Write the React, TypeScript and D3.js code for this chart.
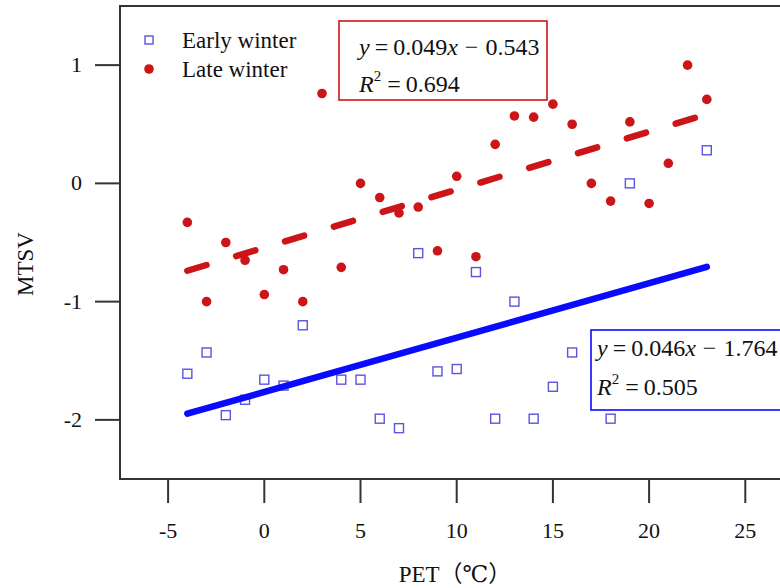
import React from "react";
import * as d3 from "d3";

const earlyX = [-4, -3, -2, -1, 0, 1, 2, 4, 5, 6, 7, 8, 9, 10, 11, 12, 13, 14, 15, 16, 18, 19, 23];
const earlyY = [-1.61, -1.43, -1.96, -1.83, -1.66, -1.71, -1.2, -1.66, -1.66, -1.99, -2.07, -0.59, -1.59, -1.57, -0.75, -1.99, -1.0, -1.99, -1.72, -1.43, -1.99, 0.0, 0.28];

const lateX = [-4, -3, -2, -1, 0, 1, 2, 3, 4, 5, 6, 7, 8, 9, 10, 11, 12, 13, 14, 15, 16, 17, 18, 19, 20, 21, 22, 23];
const lateY = [-0.33, -1.0, -0.5, -0.65, -0.94, -0.73, -1.0, 0.76, -0.71, 0.0, -0.12, -0.25, -0.2, -0.57, 0.06, -0.62, 0.33, 0.57, 0.56, 0.67, 0.5, 0.0, -0.15, 0.52, -0.17, 0.17, 1.0, 0.71];

const seriesNames = ["Early winter", "Late winter"];
const fitSlopes = [0.046, 0.049];
const fitIntercepts = [-1.764, -0.543];
const fitR2 = ["0.505", "0.694"];
const fitRange = [-4, 23];

const xTicks = [-5, 0, 5, 10, 15, 20, 25];
const yTicks = [-2, -1, 0, 1];
const xTitle = "PET（℃）";
const yTitle = "MTSV";

const FONT = "'Liberation Serif', 'Times New Roman', 'DejaVu Serif', 'Noto Sans CJK SC', serif";
const RED = "#cc1518";
const BLUE_LINE = "#0a0aff";
const BLUE_PT = "#5a55dc";
const AXIS = "#333333";

export default function App() {
  const W = 780, H = 588;
  const x = d3.scaleLinear().domain([-7.5, 27.5]).range([120, 793.4]);
  const y = d3.scaleLinear().domain([-2.5, 1.5]).range([479, 6]);

  const fitPath = (i: number) =>
    d3.line<number>()
      .x((v) => x(v))
      .y((v) => y(fitSlopes[i] * v + fitIntercepts[i]))(fitRange) || "";

  const eq = (i: number, tx: number, ty1: number, ty2: number) => {
    const s = fitSlopes[i].toFixed(3);
    const b = Math.abs(fitIntercepts[i]).toFixed(3);
    return (
      <g fontFamily={FONT} fontSize={24} fill="#111">
        <text x={tx} y={ty1}>
          <tspan fontStyle="italic">y</tspan>
          <tspan dx={5}>=</tspan>
          <tspan dx={5}>{s}</tspan>
          <tspan fontStyle="italic">x</tspan>
          <tspan dx={7}>{fitIntercepts[i] < 0 ? "\u2212" : "+"}</tspan>
          <tspan dx={7}>{b}</tspan>
        </text>
        <text x={tx} y={ty2}>
          <tspan fontStyle="italic">R</tspan>
          <tspan fontSize={15} dy={-11}>2</tspan>
          <tspan dy={11} dx={6}>=</tspan>
          <tspan dx={5}>{fitR2[i]}</tspan>
        </text>
      </g>
    );
  };

  return (
    <svg width={W} height={H} style={{ position: "absolute", left: 0, top: 0, background: "#fff" }}>
      <rect x={0} y={0} width={W} height={H} fill="#fff" />
      <rect x={x(-7.5)} y={y(1.5)} width={x(27.5) - x(-7.5)} height={y(-2.5) - y(1.5)} fill="none" stroke={AXIS} strokeWidth={2} />

      {xTicks.map((t) => (
        <g key={"xt" + t}>
          <line x1={x(t)} x2={x(t)} y1={y(-2.5)} y2={y(-2.5) + 24} stroke={AXIS} strokeWidth={2} />
          <text x={x(t)} y={538} textAnchor="middle" fontFamily={FONT} fontSize={22} fill="#111">
            {t < 0 ? "-" + Math.abs(t) : String(t)}
          </text>
        </g>
      ))}
      {yTicks.map((t) => (
        <g key={"yt" + t}>
          <line x1={x(-7.5) - 25} x2={x(-7.5)} y1={y(t)} y2={y(t)} stroke={AXIS} strokeWidth={2} />
          <text x={82} y={y(t) + 7} textAnchor="end" fontFamily={FONT} fontSize={22} fill="#111">
            {t < 0 ? "-" + Math.abs(t) : String(t)}
          </text>
        </g>
      ))}
      <text x={455} y={582} textAnchor="middle" fontFamily={FONT} fontSize={23} fill="#111">{xTitle}</text>
      <text transform={`translate(33,264) rotate(-90)`} textAnchor="middle" fontFamily={FONT} fontSize={23} fill="#111">{yTitle}</text>

      {earlyX.map((v, i) => (
        <rect key={"e" + i} x={x(v) - 4.5} y={y(earlyY[i]) - 4.5} width={9} height={9} fill="none" stroke={BLUE_PT} strokeWidth={1.4} />
      ))}
      <path d={fitPath(0)} stroke={BLUE_LINE} strokeWidth={6.5} fill="none" strokeLinecap="round" />
      <path d={fitPath(1)} stroke={RED} strokeWidth={6.5} fill="none" strokeLinecap="round" strokeDasharray="20 31" />
      {lateX.map((v, i) => (
        <circle key={"l" + i} cx={x(v)} cy={y(lateY[i])} r={4.8} fill={RED} />
      ))}

      <rect x={145} y={36} width={8} height={8} fill="none" stroke={BLUE_PT} strokeWidth={1.4} />
      <text x={182} y={48} fontFamily={FONT} fontSize={23} fill="#111">{seriesNames[0]}</text>
      <circle cx={149} cy={69} r={4.8} fill={RED} />
      <text x={182} y={77} fontFamily={FONT} fontSize={23} fill="#111">{seriesNames[1]}</text>

      <rect x={339} y={21} width={208} height={79} fill="#fff" stroke={RED} strokeWidth={1.6} />
      {eq(1, 359, 55, 92)}
      <rect x={591} y={330} width={220} height={80} fill="#fff" stroke={BLUE_LINE} strokeWidth={1.6} />
      {eq(0, 597, 356, 395)}
    </svg>
  );
}
